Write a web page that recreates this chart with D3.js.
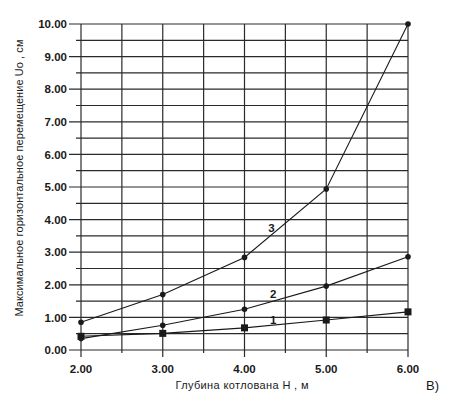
<!DOCTYPE html>
<html>
<head>
<meta charset="utf-8">
<script src="https://cdn.jsdelivr.net/npm/d3@7"></script>
<style>
  body { margin: 0; background: #fff; }
  svg { display: block; font-family: "Liberation Sans", Arial, sans-serif; }
</style>
</head>
<body>
<div id="chart"></div>
<script>
(function(){

    const width = 454;
    const height = 398;

    // depth of the pit H, m
    const depths = [2, 3, 4, 5, 6];
    // horizontal displacement Uo, cm
    const curve1 = [0.42, 0.51, 0.68, 0.92, 1.17];
    const curve2 = [0.35, 0.76, 1.25, 1.96, 2.86];
    const curve3 = [0.85, 1.70, 2.84, 4.94, 10.0];
    const curveNames = ['1', '2', '3'];
    // where the curve numbers sit, in data units
    const nameX = [4.35, 4.35, 4.33];
    const nameY = [0.92, 1.73, 3.75];

    const xTicks = [2, 3, 4, 5, 6];
    const yTicks = [0, 1, 2, 3, 4, 5, 6, 7, 8, 9, 10];

    const margin = {top: 24, right: 46, bottom: 48, left: 81};

    const svg = d3.select("#chart")
        .append("svg")
        .attr("width", width)
        .attr("height", height);

    const x = d3.scaleLinear().domain([2, 6]).range([margin.left, width - margin.right]);
    const y = d3.scaleLinear().domain([0, 10]).range([height - margin.bottom, margin.top]);

    const ink = "#1a1a1a";

    // grid, every 0.5
    const grid = svg.append("g").attr("stroke", "#2a2a2a").attr("stroke-width", 1.2);
    grid.selectAll(".h")
        .data(d3.range(0, 10.01, 0.5))
        .enter().append("line")
        .attr("x1", d => x(2) - (d % 1 === 0 ? 12 : 5))
        .attr("x2", x(6))
        .attr("y1", d => y(d))
        .attr("y2", d => y(d));
    grid.selectAll(".v")
        .data(d3.range(2, 6.01, 0.5))
        .enter().append("line")
        .attr("x1", d => x(d))
        .attr("x2", d => x(d))
        .attr("y1", y(10))
        .attr("y2", d => y(0) + (d % 1 === 0 ? 7 : 3));

    // tick labels
    svg.append("g")
        .selectAll("text")
        .data(yTicks)
        .enter().append("text")
        .attr("x", x(2) - 14)
        .attr("y", d => y(d))
        .attr("dy", "0.36em")
        .attr("text-anchor", "end")
        .attr("font-size", 11.5)
        .attr("font-weight", "bold")
        .attr("fill", ink)
        .text(d => d.toFixed(2));

    svg.append("g")
        .selectAll("text")
        .data(xTicks)
        .enter().append("text")
        .attr("x", d => x(d))
        .attr("y", y(0) + 23)
        .attr("text-anchor", "middle")
        .attr("font-size", 11.5)
        .attr("font-weight", "bold")
        .attr("fill", ink)
        .text(d => d.toFixed(2));

    // curves
    const series = [curve1, curve2, curve3];
    const line = d3.line()
        .x((d, i) => x(depths[i]))
        .y(d => y(d));

    svg.append("g")
        .selectAll("path")
        .data(series)
        .enter().append("path")
        .attr("d", line)
        .attr("fill", "none")
        .attr("stroke", ink)
        .attr("stroke-width", 1.1);

    // markers: squares for curve 1, dots for 2 and 3
    svg.append("g")
        .selectAll("rect")
        .data(curve1)
        .enter().append("rect")
        .attr("x", (d, i) => x(depths[i]) - 3.5)
        .attr("y", d => y(d) - 3.5)
        .attr("width", 7)
        .attr("height", 7)
        .attr("fill", ink);

    [curve2, curve3].forEach(function(s){
        svg.append("g")
            .selectAll("circle")
            .data(s)
            .enter().append("circle")
            .attr("cx", (d, i) => x(depths[i]))
            .attr("cy", d => y(d))
            .attr("r", 2.8)
            .attr("fill", ink);
    });

    // curve numbers
    svg.append("g")
        .selectAll("text")
        .data(curveNames)
        .enter().append("text")
        .attr("x", (d, i) => x(nameX[i]))
        .attr("y", (d, i) => y(nameY[i]))
        .attr("dy", "0.36em")
        .attr("text-anchor", "middle")
        .attr("font-size", 11.5)
        .attr("font-weight", "bold")
        .attr("fill", ink)
        .text(d => d);

    // axis titles
    svg.append("text")
        .attr("transform", "translate(23," + 178 + ") rotate(-90)")
        .attr("text-anchor", "middle")
        .attr("font-size", 11)
        .attr("textLength", 277)
        .attr("lengthAdjust", "spacing")
        .attr("fill", ink)
        .text("Максимальное горизонтальное перемещение Uo , см");

    svg.append("text")
        .attr("x", 242)
        .attr("y", 389)
        .attr("text-anchor", "middle")
        .attr("font-size", 11)
        .attr("textLength", 133)
        .attr("lengthAdjust", "spacing")
        .attr("fill", ink)
        .text("Глубина котлована Н , м");

    svg.append("text")
        .attr("x", 426)
        .attr("y", 390)
        .attr("font-size", 13)
        .attr("fill", ink)
        .text("В)");

}());
</script>
</body>
</html>
